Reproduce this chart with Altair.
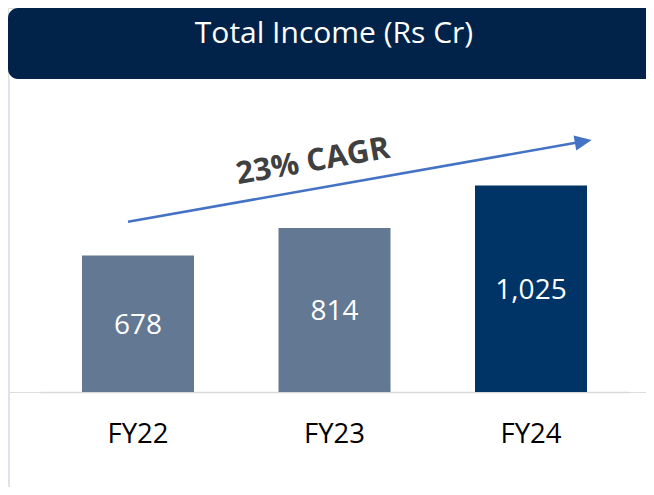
import altair as alt
import pandas as pd

categories = ["FY22", "FY23", "FY24"]
values = [678, 814, 1025]
value_labels = ["678", "814", "1,025"]
bar_colors = ["#637892", "#637892", "#003366"]
title_text = "Total Income (Rs Cr)"
cagr_text = "23% CAGR"

FONT = "Open Sans"

df = pd.DataFrame({"cat": categories, "val": values, "lab": value_labels, "col": bar_colors})

xscale = alt.Scale(domain=categories, range=[32, 621], paddingInner=0.43, paddingOuter=0.2137)
yscale = alt.Scale(domain=[0, 1906], range=[384, 0])

base = alt.Chart(df)

bars = base.mark_bar().encode(
    x=alt.X("cat:N", scale=xscale, sort=categories, title=None,
            axis=alt.Axis(labelAngle=0, labelFontSize=27.5, labelColor="#000000", labelFont=FONT,
                          labelPadding=28, ticks=False, domainColor="#D9D9D9", domainWidth=1.5,
                          grid=False)),
    y=alt.Y("val:Q", scale=yscale, axis=None),
    color=alt.Color("col:N", scale=None, legend=None),
)

labels = base.transform_calculate(half="datum.val / 2").mark_text(
    color="white", fontSize=28, font=FONT, baseline="middle", align="center", dy=2
).encode(
    x=alt.X("cat:N", scale=xscale, sort=categories),
    y=alt.Y("half:Q", scale=yscale),
    text="lab:N",
)

one = alt.Data(values=[{"t": title_text, "c": cagr_text}])

banner = alt.Chart(one).mark_rect(color="#01234A", cornerRadius=10).encode(
    x=alt.value(0), x2=alt.value(680), y=alt.value(0), y2=alt.value(71)
)
title = alt.Chart(one).mark_text(color="white", fontSize=30, font=FONT, baseline="middle", align="center").encode(
    x=alt.value(326), y=alt.value(26), text="t:N"
)
border = alt.Chart(one).mark_rule(color="#DEE3EA", strokeWidth=2).encode(
    x=alt.value(1), y=alt.value(71), y2=alt.value(479)
)
arrow_line = alt.Chart(one).mark_rule(color="#4472C4", strokeWidth=2.5).encode(
    x=alt.value(120), y=alt.value(213.7), x2=alt.value(575), y2=alt.value(133.5)
)
arrow_head = alt.Chart(one).mark_point(
    shape="M 1 0 L -1 -0.9 L -1 0.9 Z", filled=True, color="#4472C4", opacity=1, size=289, angle=350
).encode(x=alt.value(575.3), y=alt.value(133.5))
cagr = alt.Chart(one).mark_text(
    color="#404040", fontSize=31, font=FONT, fontWeight="bold", angle=350, baseline="middle", align="center"
).encode(x=alt.value(305), y=alt.value(154), text="c:N")

chart = alt.layer(banner, title, border, bars, labels, arrow_line, arrow_head, cagr).properties(
    width=638, height=384,
    autosize=alt.AutoSizeParams(type="none"),
    padding={"left": 0, "top": 0, "right": 0, "bottom": 95},
).configure_view(stroke=None).configure(background="white")

chart.save("out.html", embed_options={"renderer": "svg", "actions": False})
